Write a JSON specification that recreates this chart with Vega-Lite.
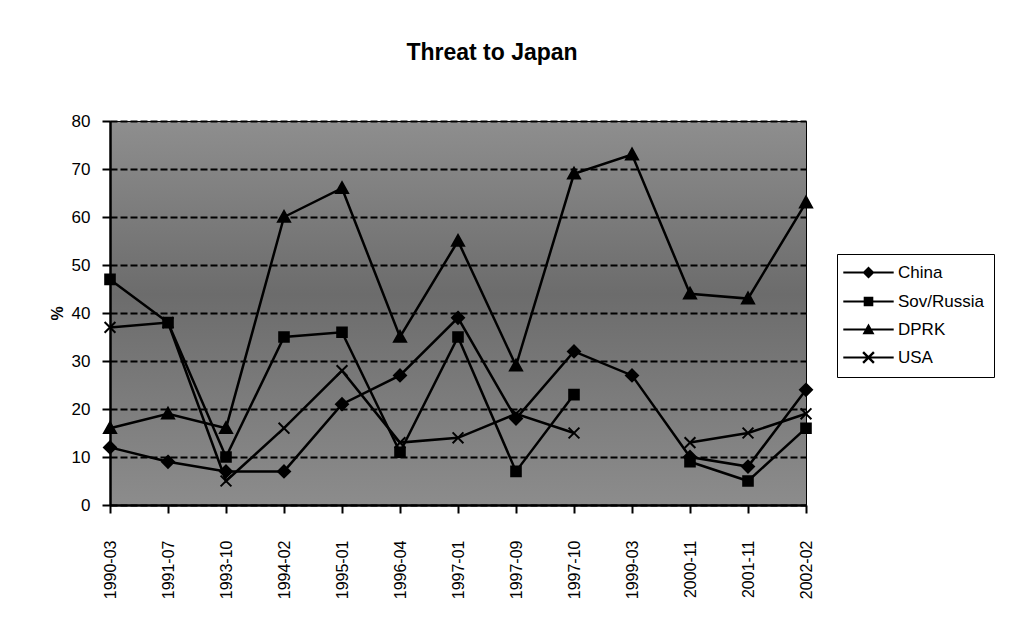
{
  "$schema": "https://vega.github.io/schema/vega-lite/v6.json",
  "width": 696,
  "height": 384,
  "autosize": {"type": "none"},
  "padding": {"left": 110, "top": 121, "right": 204, "bottom": 121},
  "background": "white",
  "title": {
    "text": "Threat to Japan",
    "font": "Liberation Sans",
    "fontSize": 23,
    "fontWeight": "bold",
    "color": "black",
    "anchor": "middle",
    "offset": 47,
    "dx": 34
  },
  "data": {
    "values": [
      {"date": "1990-03", "series": "China", "value": 12},
      {"date": "1991-07", "series": "China", "value": 9},
      {"date": "1993-10", "series": "China", "value": 7},
      {"date": "1994-02", "series": "China", "value": 7},
      {"date": "1995-01", "series": "China", "value": 21},
      {"date": "1996-04", "series": "China", "value": 27},
      {"date": "1997-01", "series": "China", "value": 39},
      {"date": "1997-09", "series": "China", "value": 18},
      {"date": "1997-10", "series": "China", "value": 32},
      {"date": "1999-03", "series": "China", "value": 27},
      {"date": "2000-11", "series": "China", "value": 10},
      {"date": "2001-11", "series": "China", "value": 8},
      {"date": "2002-02", "series": "China", "value": 24},
      {"date": "1990-03", "series": "Sov/Russia", "value": 47},
      {"date": "1991-07", "series": "Sov/Russia", "value": 38},
      {"date": "1993-10", "series": "Sov/Russia", "value": 10},
      {"date": "1994-02", "series": "Sov/Russia", "value": 35},
      {"date": "1995-01", "series": "Sov/Russia", "value": 36},
      {"date": "1996-04", "series": "Sov/Russia", "value": 11},
      {"date": "1997-01", "series": "Sov/Russia", "value": 35},
      {"date": "1997-09", "series": "Sov/Russia", "value": 7},
      {"date": "1997-10", "series": "Sov/Russia", "value": 23},
      {"date": "1999-03", "series": "Sov/Russia", "value": null},
      {"date": "2000-11", "series": "Sov/Russia", "value": 9},
      {"date": "2001-11", "series": "Sov/Russia", "value": 5},
      {"date": "2002-02", "series": "Sov/Russia", "value": 16},
      {"date": "1990-03", "series": "DPRK", "value": 16},
      {"date": "1991-07", "series": "DPRK", "value": 19},
      {"date": "1993-10", "series": "DPRK", "value": 16},
      {"date": "1994-02", "series": "DPRK", "value": 60},
      {"date": "1995-01", "series": "DPRK", "value": 66},
      {"date": "1996-04", "series": "DPRK", "value": 35},
      {"date": "1997-01", "series": "DPRK", "value": 55},
      {"date": "1997-09", "series": "DPRK", "value": 29},
      {"date": "1997-10", "series": "DPRK", "value": 69},
      {"date": "1999-03", "series": "DPRK", "value": 73},
      {"date": "2000-11", "series": "DPRK", "value": 44},
      {"date": "2001-11", "series": "DPRK", "value": 43},
      {"date": "2002-02", "series": "DPRK", "value": 63},
      {"date": "1990-03", "series": "USA", "value": 37},
      {"date": "1991-07", "series": "USA", "value": 38},
      {"date": "1993-10", "series": "USA", "value": 5},
      {"date": "1994-02", "series": "USA", "value": 16},
      {"date": "1995-01", "series": "USA", "value": 28},
      {"date": "1996-04", "series": "USA", "value": 13},
      {"date": "1997-01", "series": "USA", "value": 14},
      {"date": "1997-09", "series": "USA", "value": 19},
      {"date": "1997-10", "series": "USA", "value": 15},
      {"date": "1999-03", "series": "USA", "value": null},
      {"date": "2000-11", "series": "USA", "value": 13},
      {"date": "2001-11", "series": "USA", "value": 15},
      {"date": "2002-02", "series": "USA", "value": 19}
    ]
  },
  "encoding": {
    "x": {
      "field": "date",
      "type": "ordinal",
      "sort": null,
      "scale": {"type": "point", "padding": 0},
      "axis": {
        "title": null,
        "labelAngle": -90,
        "labelFont": "Liberation Sans",
        "labelFontSize": 16,
        "labelColor": "black",
        "labelPadding": 27,
        "tickSize": 8,
        "tickWidth": 2,
        "tickColor": "black",
        "domainColor": "black",
        "domainWidth": 2.5,
        "grid": false
      }
    },
    "y": {
      "field": "value",
      "type": "quantitative",
      "scale": {"domain": [0, 80], "nice": false},
      "axis": {
        "title": "%",
        "titleFont": "Liberation Sans",
        "titleFontSize": 16,
        "titleFontWeight": "bold",
        "titleColor": "black",
        "titlePadding": 6,
        "values": [0, 10, 20, 30, 40, 50, 60, 70, 80],
        "labelFont": "Liberation Sans",
        "labelFontSize": 17,
        "labelColor": "black",
        "labelPadding": 12,
        "tickSize": 8,
        "tickWidth": 2,
        "tickColor": "black",
        "domainColor": "black",
        "domainWidth": 2.5,
        "grid": true,
        "gridColor": "black",
        "gridWidth": 2,
        "gridDash": [7, 3]
      }
    }
  },
  "layer": [
    {
      "mark": {"type": "line", "color": "black", "strokeWidth": 2.5, "invalid": "break-paths-show-domains"},
      "encoding": {"detail": {"field": "series"}}
    },
    {
      "mark": {"type": "point", "filled": true, "color": "black", "stroke": "black", "strokeWidth": 2, "size": 144, "opacity": 1},
      "encoding": {
        "shape": {
          "field": "series",
          "type": "nominal",
          "scale": {
            "domain": ["China", "Sov/Russia", "DPRK", "USA"],
            "range": [
              "M0,-1L1,0L0,1L-1,0Z",
              "M-0.8,-0.8H0.8V0.8H-0.8Z",
              "M0,-1L1,0.8H-1Z",
              "M-0.9,-0.9L0.9,0.9M0.9,-0.9L-0.9,0.9"
            ]
          },
          "legend": null
        }
      }
    },
    {
      "transform": [{"filter": "datum.value > 1000"}],
      "mark": {"type": "point", "filled": true, "color": "black", "size": 144, "opacity": 1},
      "encoding": {
        "shape": {
          "field": "series",
          "type": "nominal",
          "scale": {
            "domain": ["China", "Sov/Russia", "DPRK", "USA"],
            "range": [
              "M-4.2,-0.17H4.2V0.17H-4.2ZM0,-1L1,0L0,1L-1,0Z",
              "M-4.2,-0.17H4.2V0.17H-4.2ZM-0.8,-0.8H0.8V0.8H-0.8Z",
              "M-4.2,-0.17H4.2V0.17H-4.2ZM0,-1L1,0.8H-1Z",
              "M-4.2,-0.17H4.2V0.17H-4.2ZM-0.76,-1.04L1.04,0.76L0.76,1.04L-1.04,-0.76ZM1.04,-0.76L-0.76,1.04L-1.04,0.76L0.76,-1.04Z"
            ]
          },
          "legend": {
            "title": null,
            "orient": "none",
            "legendX": 727,
            "legendY": 133,
            "padding": 10,
            "strokeColor": "black",
            "fillColor": "white",
            "labelFont": "Liberation Sans",
            "labelFontSize": 17,
            "labelColor": "black",
            "symbolSize": 144,
            "symbolFillColor": "black",
            "symbolOffset": 13,
            "labelOffset": 21,
            "rowPadding": 10
          }
        }
      }
    }
  ],
  "resolve": {"scale": {"shape": "independent"}, "legend": {"shape": "independent"}},
  "config": {
    "view": {
      "fill": {
        "gradient": "linear",
        "x1": 0, "y1": 0, "x2": 0, "y2": 1,
        "stops": [
          {"offset": 0, "color": "#8e8e8e"},
          {"offset": 0.45, "color": "#6c6c6c"},
          {"offset": 1, "color": "#8c8c8c"}
        ]
      },
      "stroke": "black",
      "strokeWidth": 1
    }
  }
}
